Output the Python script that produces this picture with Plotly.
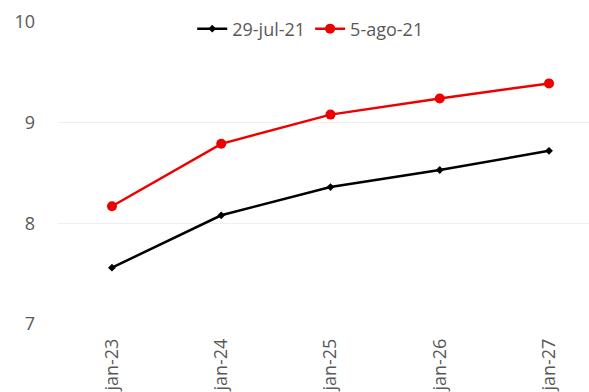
import plotly.graph_objects as go

categories = ["jan-23", "jan-24", "jan-25", "jan-26", "jan-27"]
series_jul = [7.56, 8.08, 8.36, 8.53, 8.72]
series_ago = [8.17, 8.79, 9.08, 9.24, 9.39]
name_jul = "29-jul-21"
name_ago = "5-ago-21"
y_ticks = [7, 8, 9, 10]

idx = list(range(len(categories)))

fig = go.Figure()
fig.add_trace(go.Scatter(
    x=idx, y=series_jul, name=name_jul, mode="lines+markers",
    line=dict(color="#000000", width=2.5),
    marker=dict(symbol="diamond", size=6, color="#000000"),
))
fig.add_trace(go.Scatter(
    x=idx, y=series_ago, name=name_ago, mode="lines+markers",
    line=dict(color="#EE0000", width=2.5),
    marker=dict(symbol="circle", size=10, color="#EE0000"),
))

fig.update_layout(
    width=589, height=392,
    margin=dict(l=58, r=0, t=22, b=66),
    paper_bgcolor="white", plot_bgcolor="white",
    font=dict(family="Open Sans", size=18, color="#595959"),
    showlegend=True,
    legend=dict(orientation="h", x=0.475, xanchor="center", y=0.977, yanchor="middle",
                bgcolor="rgba(0,0,0,0)", font=dict(size=18, color="#595959"),
                itemwidth=30, tracegroupgap=0),
    xaxis=dict(
        tickmode="array", tickvals=idx, ticktext=categories,
        range=[-0.494, 4.366], tickangle=-90,
        showgrid=False, zeroline=False, showline=False, ticks="",
        ticklabelstandoff=10,
        tickfont=dict(size=18, color="#595959"),
    ),
    yaxis=dict(
        range=[7, 10], tickmode="array", tickvals=y_ticks,
        showgrid=True, gridcolor="#EFEFEF", gridwidth=1,
        zeroline=False, showline=False, ticks="", ticklen=0,
        ticklabelstandoff=22,
        tickfont=dict(size=18, color="#595959"),
    ),
)
fig.write_html("out.html")
